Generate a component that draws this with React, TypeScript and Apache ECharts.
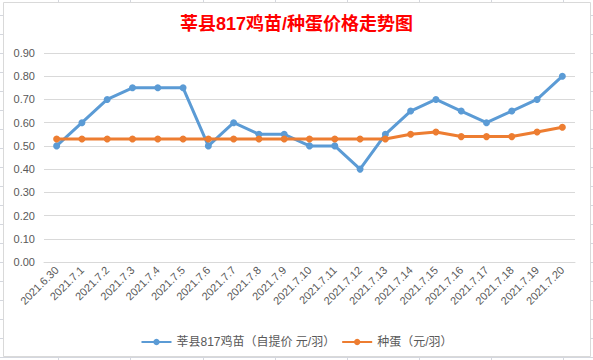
import React, { useEffect, useRef } from "react";
import * as echarts from "echarts";

const categories = [
  "2021.6.30", "2021.7.1", "2021.7.2", "2021.7.3", "2021.7.4", "2021.7.5", "2021.7.6",
  "2021.7.7", "2021.7.8", "2021.7.9", "2021.7.10", "2021.7.11", "2021.7.12", "2021.7.13",
  "2021.7.14", "2021.7.15", "2021.7.16", "2021.7.17", "2021.7.18", "2021.7.19", "2021.7.20",
];
const chickPrice = [0.5, 0.6, 0.7, 0.75, 0.75, 0.75, 0.5, 0.6, 0.55, 0.55, 0.5, 0.5, 0.4, 0.55, 0.65, 0.7, 0.65, 0.6, 0.65, 0.7, 0.8];
const eggPrice = [0.53, 0.53, 0.53, 0.53, 0.53, 0.53, 0.53, 0.53, 0.53, 0.53, 0.53, 0.53, 0.53, 0.53, 0.55, 0.56, 0.54, 0.54, 0.54, 0.56, 0.58];
const seriesNames = ["莘县817鸡苗（自提价 元/羽）", "种蛋（元/羽）"];
const titleText = "莘县817鸡苗/种蛋价格走势图";

const sheetCols = [58, 130, 203, 275, 347, 419, 491, 563];
const sheetRows = [15, 34, 53, 72, 91, 110, 129, 148, 167, 186, 205, 224, 243, 262, 281, 300, 319, 338, 357];

const FONT = "'Liberation Sans', 'Noto Sans CJK SC', sans-serif";

export default function App() {
  const ref = useRef<HTMLDivElement>(null);
  useEffect(() => {
    if (!ref.current) return;
    const chart = echarts.init(ref.current, null, { renderer: "svg" });
    const sheetColor = "#d4d7de";
    const graphics: any[] = [];
    sheetCols.forEach((x) =>
      graphics.push({ type: "line", z: -30, silent: true, shape: { x1: x + 0.5, y1: 0, x2: x + 0.5, y2: 360 }, style: { stroke: sheetColor, lineWidth: 1 } })
    );
    sheetRows.forEach((y) =>
      graphics.push({ type: "line", z: -30, silent: true, shape: { x1: 0, y1: y + 0.5, x2: 593, y2: y + 0.5 }, style: { stroke: sheetColor, lineWidth: 1 } })
    );
    graphics.push({
      type: "rect", z: -20, silent: true,
      shape: { x: 3.5, y: 2.5, width: 587, height: 354 },
      style: { fill: "#ffffff", stroke: "#d9d9d9", lineWidth: 1 },
    });
    chart.setOption({
      animation: false,
      backgroundColor: "#ffffff",
      graphic: { elements: graphics },
      title: {
        text: titleText,
        left: "center",
        top: 15,
        padding: 0,
        textStyle: { color: "#ff0000", fontSize: 18, fontWeight: "bold", fontFamily: FONT },
      },
      legend: {
        data: seriesNames,
        left: "center",
        top: 331,
        itemWidth: 30,
        itemHeight: 8,
        itemGap: 6,
        textStyle: { color: "#595959", fontSize: 12, fontFamily: FONT },
      },
      grid: { left: 44, right: 18, top: 53, bottom: 98 },
      xAxis: {
        type: "category",
        data: categories,
        boundaryGap: true,
        axisLine: { lineStyle: { color: "#d9d9d9" } },
        axisTick: { show: false },
        axisLabel: { rotate: 45, interval: 0, margin: 6, color: "#595959", fontSize: 11, fontFamily: FONT },
      },
      yAxis: {
        type: "value",
        min: 0,
        max: 0.9,
        interval: 0.1,
        axisLine: { show: false },
        axisTick: { show: false },
        splitLine: { lineStyle: { color: "#d9d9d9" } },
        axisLabel: { margin: 9, color: "#595959", fontSize: 11, fontFamily: FONT, formatter: (v: number) => v.toFixed(2) },
      },
      series: [
        {
          name: seriesNames[0], type: "line", data: chickPrice,
          symbol: "circle", symbolSize: 7,
          lineStyle: { color: "#5b9bd5", width: 3 },
          itemStyle: { color: "#5b9bd5" },
        },
        {
          name: seriesNames[1], type: "line", data: eggPrice,
          symbol: "circle", symbolSize: 7,
          lineStyle: { color: "#ed7d31", width: 3 },
          itemStyle: { color: "#ed7d31" },
        },
      ],
    });
    return () => chart.dispose();
  }, []);
  return <div ref={ref} style={{ position: "fixed", left: 0, top: 0, width: 593, height: 360 }} />;
}
